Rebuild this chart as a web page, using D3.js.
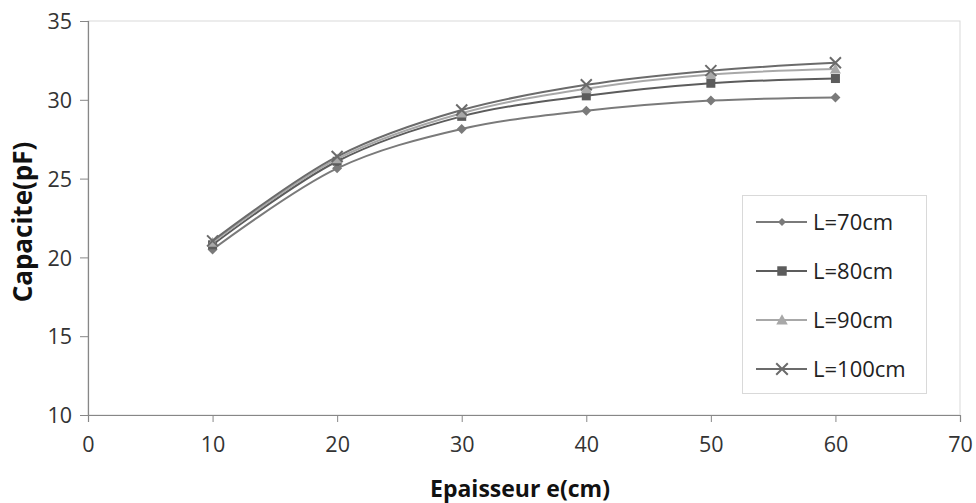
<!DOCTYPE html>
<html><head><meta charset="utf-8">
<script src="https://cdn.jsdelivr.net/npm/d3@7"></script>
<style>body{margin:0;background:#fff}text{font-family:"Open Sans",sans-serif}</style>
</head><body>
<svg id="c" width="976" height="503"></svg>
<script>
const epaisseur = [10, 20, 30, 40, 50, 60];
const seriesNames = ["L=70cm", "L=80cm", "L=90cm", "L=100cm"];
const L70 = [20.5, 25.65, 28.15, 29.3, 29.95, 30.15];
const L80 = [20.8, 26.1, 28.95, 30.25, 31.05, 31.35];
const L90 = [20.95, 26.25, 29.15, 30.7, 31.6, 31.95];
const L100 = [21.05, 26.4, 29.35, 30.95, 31.85, 32.35];
const xTicks = [0, 10, 20, 30, 40, 50, 60, 70];
const yTicks = [10, 15, 20, 25, 30, 35];
const colors = ["#7a7a7a", "#5c5c5c", "#a8a8a8", "#6b6b6b"];
const symbols = ["diamond", "square", "triangle", "cross"];

const allSeries = [L70, L80, L90, L100];
const svg = d3.select("#c");
const x = d3.scaleLinear().domain([0, 70]).range([88, 960]);
const y = d3.scaleLinear().domain([10, 35]).range([415, 21]);

// frame
svg.append("rect").attr("x", x(0)).attr("y", y(35)).attr("width", x(70) - x(0)).attr("height", y(10) - y(35))
  .attr("fill", "none").attr("stroke", "#d9d9d9").attr("stroke-width", 1);

const xa = svg.append("g").attr("transform", `translate(0,${y(10)})`)
  .call(d3.axisBottom(x).tickValues(xTicks).tickSize(7).tickPadding(15).tickFormat(d3.format("d")));
const ya = svg.append("g").attr("transform", `translate(${x(0)},0)`)
  .call(d3.axisLeft(y).tickValues(yTicks).tickSize(8).tickPadding(8).tickFormat(d3.format("d")));
[xa, ya].forEach(g => {
  g.select(".domain").attr("stroke", "#878787").attr("stroke-width", 1.2);
  g.selectAll(".tick line").attr("stroke", "#878787");
  g.selectAll(".tick text").attr("fill", "#333").style("font-size", "21.5px").style("font-family", "'Open Sans',sans-serif");
});
ya.selectAll(".tick text").attr("dy", "0.36em");

svg.append("text").attr("x", 520).attr("y", 497).attr("text-anchor", "middle")
  .style("font-size", "23px").style("font-weight", "bold").attr("fill", "#111").text("Epaisseur e(cm)");
svg.append("text").attr("transform", "translate(32,222) rotate(-90)").attr("text-anchor", "middle")
  .style("font-size", "26px").style("font-weight", "bold").attr("fill", "#111").text("Capacite(pF)");

const line = d3.line().x((d, i) => x(epaisseur[i])).y(d => y(d)).curve(d3.curveCatmullRom.alpha(0.5));

function drawMarker(g, sym, cx, cy, color, scale) {
  const s = scale || 1;
  if (sym === "diamond") {
    const r = 5 * s;
    g.append("path").attr("d", `M${cx},${cy - r}L${cx + r},${cy}L${cx},${cy + r}L${cx - r},${cy}Z`).attr("fill", color);
  } else if (sym === "square") {
    const r = 4.5 * s;
    g.append("rect").attr("x", cx - r).attr("y", cy - r).attr("width", 2 * r).attr("height", 2 * r).attr("fill", color);
  } else if (sym === "triangle") {
    const r = 5.5 * s;
    g.append("path").attr("d", `M${cx},${cy - r}L${cx + r},${cy + r * 0.8}L${cx - r},${cy + r * 0.8}Z`).attr("fill", color);
  } else {
    const r = 5.5 * s;
    g.append("path").attr("d", `M${cx - r},${cy - r}L${cx + r},${cy + r}M${cx - r},${cy + r}L${cx + r},${cy - r}`)
      .attr("stroke", color).attr("stroke-width", 2).attr("fill", "none");
  }
}

allSeries.forEach((vals, k) => {
  const g = svg.append("g");
  g.append("path").attr("d", line(vals)).attr("fill", "none").attr("stroke", colors[k]).attr("stroke-width", 2);
  vals.forEach((v, i) => drawMarker(g, symbols[k], x(epaisseur[i]), y(v), colors[k]));
});

// legend
const lg = svg.append("g");
lg.append("rect").attr("x", 742.5).attr("y", 195.5).attr("width", 184).attr("height", 198)
  .attr("fill", "#fff").attr("stroke", "#d9d9d9");
seriesNames.forEach((n, k) => {
  const cy = 222 + k * 49;
  lg.append("line").attr("x1", 756).attr("x2", 807).attr("y1", cy).attr("y2", cy).attr("stroke", colors[k]).attr("stroke-width", 2);
  drawMarker(lg, symbols[k], 782, cy, colors[k], k === 0 ? 0.8 : 1.05);
  lg.append("text").attr("x", 813).attr("y", cy).attr("dy", "0.36em").style("font-size", "22px").attr("fill", "#222").text(n);
});
</script>
</body></html>
